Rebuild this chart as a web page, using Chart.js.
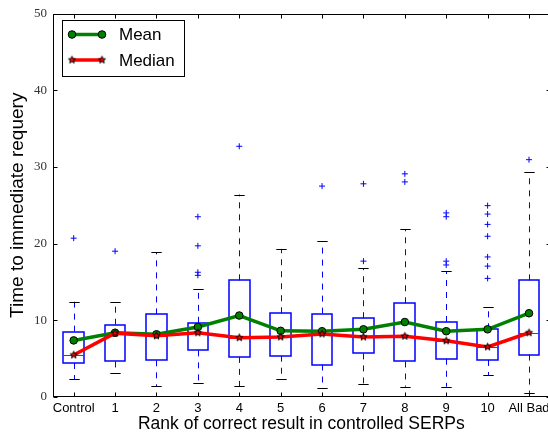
<!DOCTYPE html>
<html>
<head>
<meta charset="utf-8">
<script src="https://cdn.jsdelivr.net/npm/chart.js@4/dist/chart.umd.min.js"></script>
<style>
html, body { margin: 0; padding: 0; background: #fff; overflow: hidden; }
#wrap { width: 548px; height: 438px; overflow: hidden; }
canvas { display: block; }
</style>
</head>
<body>
<div id="wrap"><canvas id="chart" width="552" height="438"></canvas></div>
<script>
var categories = ["Control", "1", "2", "3", "4", "5", "6", "7", "8", "9", "10", "All Bad"];
var q1 = [4.4, 4.6, 4.75, 6.05, 5.2, 5.35, 4.2, 5.65, 4.6, 4.95, 4.8, 5.5];
var q3 = [8.5, 9.4, 10.75, 9.65, 15.2, 10.9, 10.85, 10.25, 12.2, 9.75, 8.8, 15.2];
var medians = [5.45, 8.3, 7.95, 8.35, 7.7, 7.8, 8.2, 7.8, 7.9, 7.3, 6.5, 8.35];
var means = [7.35, 8.35, 8.15, 9.1, 10.6, 8.6, 8.55, 8.8, 9.75, 8.55, 8.8, 10.9];
var whiskLow = [2.3, 3.1, 1.35, 1.85, 1.35, 2.3, 1.15, 1.6, 1.3, 1.3, 2.8, 0.5];
var whiskHigh = [12.4, 12.35, 18.85, 14.0, 26.4, 19.3, 20.3, 16.8, 21.85, 16.4, 11.75, 29.3];
var outliers = [
  [20.7], [19.0], [], [23.5, 19.7, 16.25, 15.85], [32.7], [], [27.5],
  [27.8, 17.7], [29.1, 28.05], [24.0, 23.5, 17.7, 17.2],
  [24.95, 23.85, 22.5, 20.95, 18.25, 17.05, 15.45], [30.95]
];
var yTicks = [0, 10, 20, 30, 40, 50];

var BLUE = "#0000ff", GREEN = "#008000", RED = "#ff0000";

// filled five-point star marker, like matplotlib's '*'
function makeStar(r) {
  var c = document.createElement("canvas");
  var s = Math.ceil(r * 2 + 3);
  c.width = s; c.height = s;
  var g = c.getContext("2d");
  g.beginPath();
  for (var k = 0; k < 10; k++) {
    var rr = k % 2 ? r * 0.42 : r;
    var a = -Math.PI / 2 + k * Math.PI / 5;
    var px = s / 2 + rr * Math.cos(a), py = s / 2 + rr * Math.sin(a);
    if (k === 0) g.moveTo(px, py); else g.lineTo(px, py);
  }
  g.closePath();
  g.fillStyle = RED; g.fill();
  g.lineWidth = 1; g.strokeStyle = "#000"; g.stroke();
  return c;
}
var star = makeStar(3.8);

var flierPts = [];
outliers.forEach(function(list, i) {
  list.forEach(function(v) { flierPts.push({ x: categories[i], y: v }); });
});

function snap(v) { return Math.round(v) + 0.5; }

// whiskers, caps, box outlines and the per-box median tick
var boxExtras = {
  id: "boxExtras",
  beforeDatasetsDraw: function(chart) {
    var ctx = chart.ctx, xs = chart.scales.x, ys = chart.scales.y;
    var w = xs.width / categories.length * 0.5;
    ctx.save();
    ctx.lineWidth = 1;
    for (var i = 0; i < categories.length; i++) {
      var x = snap(xs.getPixelForValue(i));
      ctx.strokeStyle = BLUE;
      ctx.setLineDash([6, 6]);
      ctx.beginPath();
      ctx.moveTo(x, ys.getPixelForValue(q3[i])); ctx.lineTo(x, ys.getPixelForValue(whiskHigh[i]));
      ctx.moveTo(x, ys.getPixelForValue(q1[i])); ctx.lineTo(x, ys.getPixelForValue(whiskLow[i]));
      ctx.stroke();
      ctx.setLineDash([]);
      ctx.strokeStyle = "#000";
      ctx.beginPath();
      [whiskHigh[i], whiskLow[i]].forEach(function(v) {
        var y = snap(ys.getPixelForValue(v));
        ctx.moveTo(x - w / 4, y); ctx.lineTo(x + w / 4, y);
      });
      ctx.stroke();
    }
    ctx.restore();
  },
  afterDatasetDraw: function(chart, args) {
    if (args.index !== 0) return;
    var ctx = chart.ctx;
    ctx.save();
    args.meta.data.forEach(function(bar, i) {
      var p = bar.getProps(["x", "y", "base", "width"], true);
      var l = Math.round(p.x - p.width / 2), r = Math.round(p.x + p.width / 2);
      var t = Math.round(Math.min(p.y, p.base)), b = Math.round(Math.max(p.y, p.base));
      ctx.lineWidth = 1.5;
      ctx.strokeStyle = BLUE;
      ctx.strokeRect(l, t, r - l, b - t);
      var my = snap(chart.scales.y.getPixelForValue(medians[i]));
      ctx.lineWidth = 1;
      ctx.strokeStyle = RED;
      ctx.beginPath(); ctx.moveTo(l, my); ctx.lineTo(r, my); ctx.stroke();
    });
    ctx.restore();
  },
  afterDraw: function(chart) {
    var ctx = chart.ctx, a = chart.chartArea, xs = chart.scales.x, ys = chart.scales.y;
    var L = snap(a.left), R = snap(a.right);
    var T = snap(a.top), B = Math.round(a.bottom) - 0.5;
    ctx.save();
    ctx.strokeStyle = "#000";
    ctx.lineWidth = 1;
    ctx.strokeRect(L, T, R - L, B - T);
    ctx.beginPath();
    for (var i = 0; i < categories.length; i++) {
      var x = snap(xs.getPixelForValue(i));
      ctx.moveTo(x, T); ctx.lineTo(x, T + 4);
      ctx.moveTo(x, B); ctx.lineTo(x, B - 4);
    }
    yTicks.forEach(function(v) {
      var y = snap(ys.getPixelForValue(v));
      ctx.moveTo(L, y); ctx.lineTo(L + 4, y);
      ctx.moveTo(R, y); ctx.lineTo(R - 4, y);
    });
    ctx.stroke();

    // legend
    ctx.fillStyle = "#fff";
    ctx.fillRect(62.5, 20.5, 122, 56);
    ctx.strokeRect(62.5, 20.5, 122, 56);
    var rows = [["Mean", GREEN, 34.5], ["Median", RED, 60]];
    rows.forEach(function(r) {
      ctx.strokeStyle = r[1];
      ctx.lineWidth = 3.5;
      ctx.beginPath(); ctx.moveTo(72, r[2]); ctx.lineTo(102, r[2]); ctx.stroke();
      [72, 102].forEach(function(px) {
        if (r[0] === "Mean") {
          ctx.beginPath(); ctx.arc(px, r[2], 3.8, 0, Math.PI * 2);
          ctx.fillStyle = GREEN; ctx.fill();
          ctx.lineWidth = 1; ctx.strokeStyle = "#000"; ctx.stroke();
        } else {
          ctx.drawImage(star, px - star.width / 2, r[2] - star.height / 2);
        }
      });
      ctx.fillStyle = "#000";
      ctx.font = "17px 'Liberation Sans', Arial, sans-serif";
      ctx.textBaseline = "middle";
      ctx.textAlign = "left";
      ctx.fillText(r[0], 119, r[2] + 1);
    });
    ctx.restore();
  }
};

new Chart(document.getElementById("chart"), {
  data: {
    labels: categories,
    datasets: [
      {
        type: "bar",
        data: categories.map(function(c, i) { return [q1[i], q3[i]]; }),
        backgroundColor: "rgba(0,0,0,0)",
        borderWidth: 0,
        barPercentage: 0.5,
        categoryPercentage: 1.0,
        order: 3
      },
      {
        type: "line",
        label: "Outliers",
        data: flierPts,
        showLine: false,
        pointStyle: "cross",
        pointRadius: 3,
        borderColor: BLUE,
        pointBorderWidth: 1,
        order: 2
      },
      {
        type: "line",
        label: "Mean",
        data: means,
        borderColor: GREEN,
        borderWidth: 3.5,
        tension: 0,
        pointStyle: "circle",
        pointRadius: 3.8,
        pointBackgroundColor: GREEN,
        pointBorderColor: "#000",
        pointBorderWidth: 1,
        order: 1
      },
      {
        type: "line",
        label: "Median",
        data: medians,
        borderColor: RED,
        borderWidth: 3.5,
        tension: 0,
        pointStyle: star,
        order: 0
      }
    ]
  },
  options: {
    responsive: false,
    animation: false,
    devicePixelRatio: 1,
    layout: { autoPadding: false, padding: { left: 0, top: 12.5, right: 2.3, bottom: 0 } },
    plugins: { legend: { display: false }, tooltip: { enabled: false } },
    scales: {
      x: {
        type: "category",
        offset: true,
        grid: { display: false, drawTicks: false },
        border: { display: false },
        ticks: {
          autoSkip: false, maxRotation: 0, padding: 4, color: "#000",
          font: { family: "'Liberation Sans', Arial, sans-serif", size: 13 }
        },
        title: {
          display: true, text: "Rank of correct result in controlled SERPs", color: "#000",
          font: { family: "'Liberation Sans', Arial, sans-serif", size: 17.5 },
          padding: { top: 0, bottom: 3 }
        },
        afterFit: function(s) {
          s.height = 438 - 396.7;
          s.paddingLeft = 0;
          s.paddingRight = 0;
        }
      },
      y: {
        min: 0, max: 50,
        grid: { display: false, drawTicks: false },
        border: { display: false },
        ticks: {
          stepSize: 10, padding: 6, color: "#333",
          font: { family: "'Liberation Serif', 'DejaVu Serif', serif", size: 13 }
        },
        title: {
          display: true, text: "Time to immediate requery", color: "#000",
          font: { family: "'Liberation Sans', Arial, sans-serif", size: 19 },
          padding: { top: 6, bottom: 0 }
        },
        afterFit: function(s) { s.width = 53; }
      }
    }
  },
  plugins: [boxExtras]
});
</script>
</body>
</html>
